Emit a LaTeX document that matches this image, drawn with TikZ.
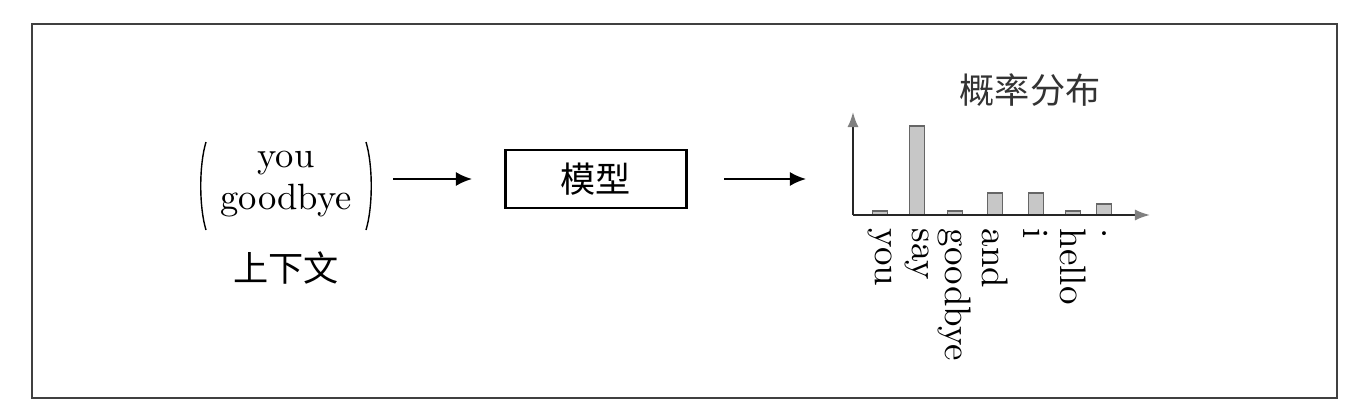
\documentclass[tikz,border=0pt]{standalone}
\usepackage{fontspec}
\newfontfamily\cjk{Noto Sans CJK SC}
\usetikzlibrary{arrows.meta,positioning}

\begin{document}
\begin{tikzpicture}[
    x=0.01cm, y=-0.01cm,
    flow/.style={-{Latex[length=1.6mm,width=1.4mm]}, line width=0.6pt},
    axis/.style={-{Latex[length=1.5mm,width=1.1mm,color=black!50]}, line width=0.5pt, black!85},
    bar/.style={draw=black!60, fill=black!22, line width=0.4pt},
    word/.style={rotate=-90, anchor=west, inner sep=0pt, font=\fontsize{10.5}{12}\selectfont}
]
\useasboundingbox (0,0) rectangle (1362,406);
\draw[black!75, line width=0.45pt] (32,24) rectangle (1337,398);

% context
\node[align=center, inner sep=0pt, font=\fontsize{10.4}{12}\selectfont] (ctx) at (286,184) {you\\goodbye};
\draw[line width=0.4pt] (206,142) .. controls (199,165) and (199,207) .. (206,230);
\draw[line width=0.4pt] (366,142) .. controls (373,165) and (373,207) .. (366,230);
\node[below=0.84cm of ctx.center, anchor=center, inner sep=0pt] (ctxlbl) {\cjk 上下文};

% model
\node[draw, line width=0.6pt, minimum width=1.81cm, minimum height=0.58cm] (model) at (596,179) {\cjk 模型};
\coordinate (a1s) at (393,179);
\coordinate (a1e) at (472,179);
\draw[flow] (a1s) -- (a1e);
\coordinate (a2s) at (724,179);
\coordinate (a2e) at (806,179);
\draw[flow] (a2s) -- (a2e);

% distribution
\node[black!80] (title) at (1030,90) {\cjk 概率分布};
\coordinate (o) at (853,215);
\coordinate (ytip) at (853,112);
\coordinate (xtip) at (1150,215);
\foreach \x/\top/\w [count=\i] in {880/211/you, 917/126/say, 955/211/goodbye,
    995/193/and, 1036/193/i, 1073/211/hello, 1104/204/.}
{
    \draw[bar] (\x-7.5,215) rectangle (\x+7.5,\top);
    \node[word] (w\i) at (\x,228) {\w};
}
\draw[axis] (o) -- (ytip);
\draw[axis] (o) -- (xtip);
\end{tikzpicture}
\end{document}
